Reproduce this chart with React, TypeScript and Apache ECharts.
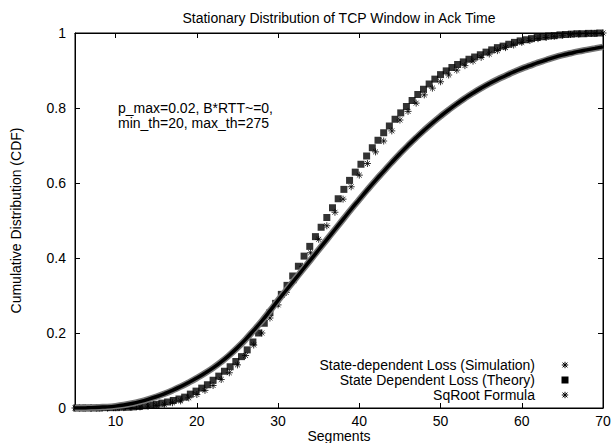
import React, { useEffect, useRef } from "react";
import * as echarts from "echarts";

const FONT = "'Liberation Sans', Arial, Helvetica, sans-serif";

const chartTitle = "Stationary Distribution of TCP Window in Ack Time";
const xName = "Segments";
const yName = "Cumulative Distribution (CDF)";
const noteLines = ["p_max=0.02, B*RTT~=0,", "min_th=20, max_th=275"];
const seriesNames = [
  "State-dependent Loss (Simulation)",
  "State Dependent Loss (Theory)",
  "SqRoot Formula",
];
const xTicks = [10, 20, 30, 40, 50, 60, 70];
const yTicks = [0, 0.2, 0.4, 0.6, 0.8, 1];

// Theory (squares), sampled every 0.7 segment
const xTheory = [
  5.2, 5.9, 6.6, 7.3, 8.0, 8.7, 9.4, 10.1, 10.8, 11.5,
  12.2, 12.9, 13.6, 14.3, 15.0, 15.7, 16.4, 17.1, 17.8, 18.5,
  19.2, 19.9, 20.6, 21.3, 22.0, 22.7, 23.4, 24.1, 24.8, 25.5,
  26.2, 26.9, 27.6, 28.3, 29.0, 29.7, 30.4, 31.1, 31.8, 32.5,
  33.2, 33.9, 34.6, 35.3, 36.0, 36.7, 37.4, 38.1, 38.8, 39.5,
  40.2, 40.9, 41.6, 42.3, 43.0, 43.7, 44.4, 45.1, 45.8, 46.5,
  47.2, 47.9, 48.6, 49.3, 50.0, 50.7, 51.4, 52.1, 52.8, 53.5,
  54.2, 54.9, 55.6, 56.3, 57.0, 57.7, 58.4, 59.1, 59.8, 60.5,
  61.2, 61.9, 62.6, 63.3, 64.0, 64.7, 65.4, 66.1, 66.8, 67.5,
  68.2, 68.9, 69.6,
];
const yTheory = [
  0, 0, 0, 0, 0, 0.001, 0.001, 0.001, 0.002, 0.002,
  0.003, 0.004, 0.006, 0.008, 0.010, 0.013, 0.016, 0.020, 0.024, 0.029,
  0.037, 0.045, 0.053, 0.062, 0.074, 0.085, 0.098, 0.110, 0.124, 0.137,
  0.155, 0.176, 0.200, 0.226, 0.254, 0.279, 0.303, 0.327, 0.352, 0.378,
  0.405, 0.431, 0.457, 0.482, 0.508, 0.534, 0.558, 0.583, 0.607, 0.629,
  0.650, 0.672, 0.694, 0.714, 0.734, 0.752, 0.770, 0.787, 0.804, 0.820,
  0.836, 0.850, 0.864, 0.877, 0.889, 0.899, 0.908, 0.916, 0.923, 0.930,
  0.936, 0.942, 0.949, 0.955, 0.961, 0.965, 0.970, 0.975, 0.979, 0.982,
  0.985, 0.988, 0.990, 0.992, 0.993, 0.995, 0.996, 0.997, 0.998, 0.998,
  0.999, 0.999, 1.000,
];

// Simulation and SqRoot formula, every segment
const xSeg = [
  5, 6, 7, 8, 9, 10, 11, 12, 13, 14,
  15, 16, 17, 18, 19, 20, 21, 22, 23, 24,
  25, 26, 27, 28, 29, 30, 31, 32, 33, 34,
  35, 36, 37, 38, 39, 40, 41, 42, 43, 44,
  45, 46, 47, 48, 49, 50, 51, 52, 53, 54,
  55, 56, 57, 58, 59, 60, 61, 62, 63, 64,
  65, 66, 67, 68, 69, 70,
];
const ySim = [
  0, 0, 0, 0, 0, 0.001, 0.001, 0.002, 0.003, 0.005,
  0.007, 0.010, 0.014, 0.019, 0.027, 0.036, 0.047, 0.060, 0.076, 0.094,
  0.115, 0.140, 0.168, 0.200, 0.240, 0.275, 0.308, 0.340, 0.378, 0.414,
  0.450, 0.486, 0.522, 0.557, 0.590, 0.621, 0.652, 0.683, 0.712, 0.739,
  0.768, 0.791, 0.813, 0.835, 0.853, 0.870, 0.888, 0.901, 0.913, 0.925,
  0.935, 0.944, 0.953, 0.961, 0.968, 0.975, 0.980, 0.985, 0.988, 0.991,
  0.994, 0.996, 0.997, 0.998, 0.999, 1.0,
];
const ySqrt = [
  0.000, 0.000, 0.001, 0.002, 0.003, 0.005, 0.008, 0.012, 0.017, 0.023,
  0.030, 0.038, 0.047, 0.057, 0.068, 0.080, 0.093, 0.107, 0.123, 0.141,
  0.161, 0.183, 0.207, 0.232, 0.259, 0.287, 0.314, 0.341, 0.368, 0.395,
  0.422, 0.449, 0.476, 0.503, 0.530, 0.556, 0.582, 0.607, 0.631, 0.655,
  0.678, 0.700, 0.721, 0.741, 0.760, 0.778, 0.795, 0.811, 0.826, 0.840,
  0.853, 0.865, 0.876, 0.886, 0.896, 0.905, 0.913, 0.921, 0.928, 0.935,
  0.941, 0.946, 0.951, 0.955, 0.959, 0.963,
];

const pairs = (xs: number[], ys: number[]) =>
  xs.slice(0, Math.min(xs.length, ys.length)).map((x, i) => [x, ys[i]]);

const STAR = "path://M4 0L4 8M0 4L8 4M1.2 1.2L6.8 6.8M6.8 1.2L1.2 6.8";

function starGraphic(cx: number, cy: number) {
  const r = 3.2;
  const d = 2.4;
  const st = { stroke: "#000", lineWidth: 1 };
  return {
    type: "group",
    children: [
      { type: "line", shape: { x1: cx - r, y1: cy, x2: cx + r, y2: cy }, style: st },
      { type: "line", shape: { x1: cx, y1: cy - r, x2: cx, y2: cy + r }, style: st },
      { type: "line", shape: { x1: cx - d, y1: cy - d, x2: cx + d, y2: cy + d }, style: st },
      { type: "line", shape: { x1: cx - d, y1: cy + d, x2: cx + d, y2: cy - d }, style: st },
    ],
  };
}

export default function App() {
  const ref = useRef<HTMLDivElement>(null);

  useEffect(() => {
    document.body.style.margin = "0";
    if (!ref.current) return;
    const chart = echarts.init(ref.current, null, { renderer: "svg" });

    const left = 75;
    const right = 8;
    const top = 33;
    const bottom = 35;
    const legX = 535;
    const symX = 565;
    const legY = [365, 380, 395];

    const tickCommon = {
      inside: true,
      length: 5,
      lineStyle: { color: "#000", width: 1 },
    };

    const option: any = {
      animation: false,
      backgroundColor: "#fff",
      title: {
        text: chartTitle,
        left: 339,
        top: 11,
        textAlign: "center",
        padding: 0,
        textStyle: { fontFamily: FONT, fontSize: 14, fontWeight: "normal", color: "#000" },
      },
      grid: {
        left,
        right,
        top,
        bottom,
        containLabel: false,
        outerBoundsMode: "none",
        show: true,
        borderColor: "#000",
        borderWidth: 1,
        backgroundColor: "transparent",
      },
      xAxis: [
        {
          type: "value",
          min: 5,
          max: 70,
          name: xName,
          nameLocation: "middle",
          nameGap: 21,
          nameMoveOverlap: false,
          nameTextStyle: { fontFamily: FONT, fontSize: 14, lineHeight: 14, color: "#000" },
          axisLine: { show: true, onZero: false, lineStyle: { color: "#000", width: 1 } },
          axisTick: { ...tickCommon, customValues: xTicks.slice(0, -1) },
          axisLabel: {
            customValues: xTicks,
            margin: 6,
            fontFamily: FONT,
            fontSize: 14,
            lineHeight: 14,
            color: "#000",
          },
          splitLine: { show: false },
        },
        {
          type: "value",
          position: "top",
          min: 5,
          max: 70,
          axisLine: { show: true, onZero: false, lineStyle: { color: "#000", width: 1 } },
          axisTick: { ...tickCommon, customValues: xTicks.slice(0, -1) },
          axisLabel: { show: false },
          splitLine: { show: false },
        },
      ],
      yAxis: [
        {
          type: "value",
          min: 0,
          max: 1,
          interval: 0.2,
          name: yName,
          nameLocation: "middle",
          nameGap: 52,
          nameMoveOverlap: false,
          nameTextStyle: { fontFamily: FONT, fontSize: 14, color: "#000" },
          axisLine: { show: true, onZero: false, lineStyle: { color: "#000", width: 1 } },
          axisTick: { ...tickCommon, customValues: yTicks.slice(1, -1) },
          axisLabel: {
            customValues: yTicks,
            margin: 9,
            fontFamily: FONT,
            fontSize: 14,
            color: "#000",
          },
          splitLine: { show: false },
        },
        {
          type: "value",
          position: "right",
          min: 0,
          max: 1,
          interval: 0.2,
          axisLine: { show: true, onZero: false, lineStyle: { color: "#000", width: 1 } },
          axisTick: { ...tickCommon, customValues: yTicks.slice(1, -1) },
          axisLabel: { show: false },
          splitLine: { show: false },
        },
      ],
      series: [
        {
          name: seriesNames[0],
          type: "scatter",
          data: pairs(xSeg, ySim),
          symbol: STAR,
          symbolSize: 7,
          clip: false,
          itemStyle: { color: "#000", borderColor: "#000", borderWidth: 1 },
        },
        {
          name: seriesNames[1],
          type: "scatter",
          data: pairs(xTheory, yTheory),
          symbol: "rect",
          symbolSize: 7,
          clip: false,
          itemStyle: { color: "#000" },
        },
        {
          name: seriesNames[2] + " band",
          type: "line",
          data: pairs(xSeg, ySqrt),
          smooth: 0.5,
          symbol: "none",
          lineStyle: { color: "#777", width: 6.5 },
          silent: true,
        },
        {
          name: seriesNames[2],
          type: "line",
          data: pairs(xSeg, ySqrt),
          smooth: 0.5,
          symbol: "none",
          lineStyle: { color: "#000", width: 3.5 },
        },
      ],
      graphic: [
        ...noteLines.map((t, i) => ({
          type: "text",
          x: 118,
          y: 108 + i * 15,
          style: {
            text: t,
            fontFamily: FONT,
            fontSize: 14,
            fill: "#000",
            textVerticalAlign: "middle",
          },
        })),
        ...seriesNames.map((n, i) => ({
          type: "text",
          x: legX,
          y: legY[i],
          style: {
            text: n,
            fontFamily: FONT,
            fontSize: 14,
            fill: "#000",
            textAlign: "right",
            textVerticalAlign: "middle",
          },
        })),
        starGraphic(symX, legY[0]),
        {
          type: "rect",
          shape: { x: symX - 3.5, y: legY[1] - 3.5, width: 7, height: 7 },
          style: { fill: "#000" },
        },
        starGraphic(symX, legY[2]),
      ],
    };

    chart.setOption(option);
    return () => chart.dispose();
  }, []);

  return <div ref={ref} style={{ width: 611, height: 443 }} />;
}
